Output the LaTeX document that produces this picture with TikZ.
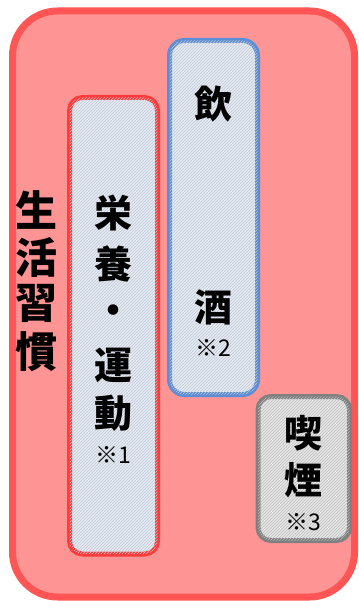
\documentclass[tikz,border=0pt]{standalone}
\usepackage{fontspec}
\newfontfamily\jp{Noto Sans CJK JP}
\usetikzlibrary{patterns}
\definecolor{outerfill}{HTML}{FF9494}
\definecolor{outerline}{HTML}{FF5555}
\definecolor{redline}{HTML}{FF3B3B}
\definecolor{blueline}{HTML}{5B8ED6}
\definecolor{grayline}{HTML}{808080}
\definecolor{boxfill}{HTML}{E5EBF4}
\definecolor{grayfill}{HTML}{E6E6E6}
\definecolor{hatch}{HTML}{C4C8D0}
\definecolor{hatchg}{HTML}{BDBDBD}
\tikzset{
  bigch/.style={font=\jp\bfseries\fontsize{42}{42}\selectfont, inner sep=0pt, anchor=center},
  midch/.style={font=\jp\bfseries\fontsize{38}{38}\selectfont, inner sep=0pt, anchor=center},
  note/.style={font=\jp\fontsize{23}{23}\selectfont, inner sep=0pt, anchor=center},
  hatched/.style={postaction={pattern=north east lines, pattern color=#1}},
}
\begin{document}
\begin{tikzpicture}[x=1pt,y=-1pt]
\useasboundingbox (0,0) rectangle (358,601);
% outer
\draw[line width=7pt, draw=outerline, fill=outerfill, rounded corners=45pt] (12.5,11) rectangle (354.5,597);
% box 1
\draw[line width=5pt, draw=redline, fill=boxfill, hatched=hatch, rounded corners=13pt] (69.5,97.5) rectangle (157.5,554);
% box 2
\draw[line width=5pt, draw=blueline, fill=boxfill, hatched=hatch, rounded corners=15pt] (169.5,40.5) rectangle (257.5,394.5);
% box 3
\draw[line width=5pt, draw=grayline, fill=grayfill, hatched=hatchg, rounded corners=13pt] (258,396.5) rectangle (349.5,540.5);
% left label
\node[bigch] (s1) at (36,210) {生};
\node[bigch] (s2) at (36,257) {活};
\node[bigch] (s3) at (36,303) {習};
\node[bigch] (s4) at (36,352) {慣};
% column 1
\node[midch] (a1) at (113,213.5) {栄};
\node[midch] (a2) at (113,264) {養};
\node[midch] (a3) at (113,315) {・};
\node[midch] (a4) at (113,365) {運};
\node[midch] (a5) at (113,413) {動};
\node[note] (n1) at (113,455) {※1};
% column 2
\node[midch] (b1) at (213,104) {飲};
\node[midch] (b2) at (213,307) {酒};
\node[note] (n2) at (213,348) {※2};
% column 3
\node[midch] (c1) at (303,433) {喫};
\node[midch] (c2) at (303,480) {煙};
\node[note] (n3) at (303,522) {※3};
\end{tikzpicture}
\end{document}
